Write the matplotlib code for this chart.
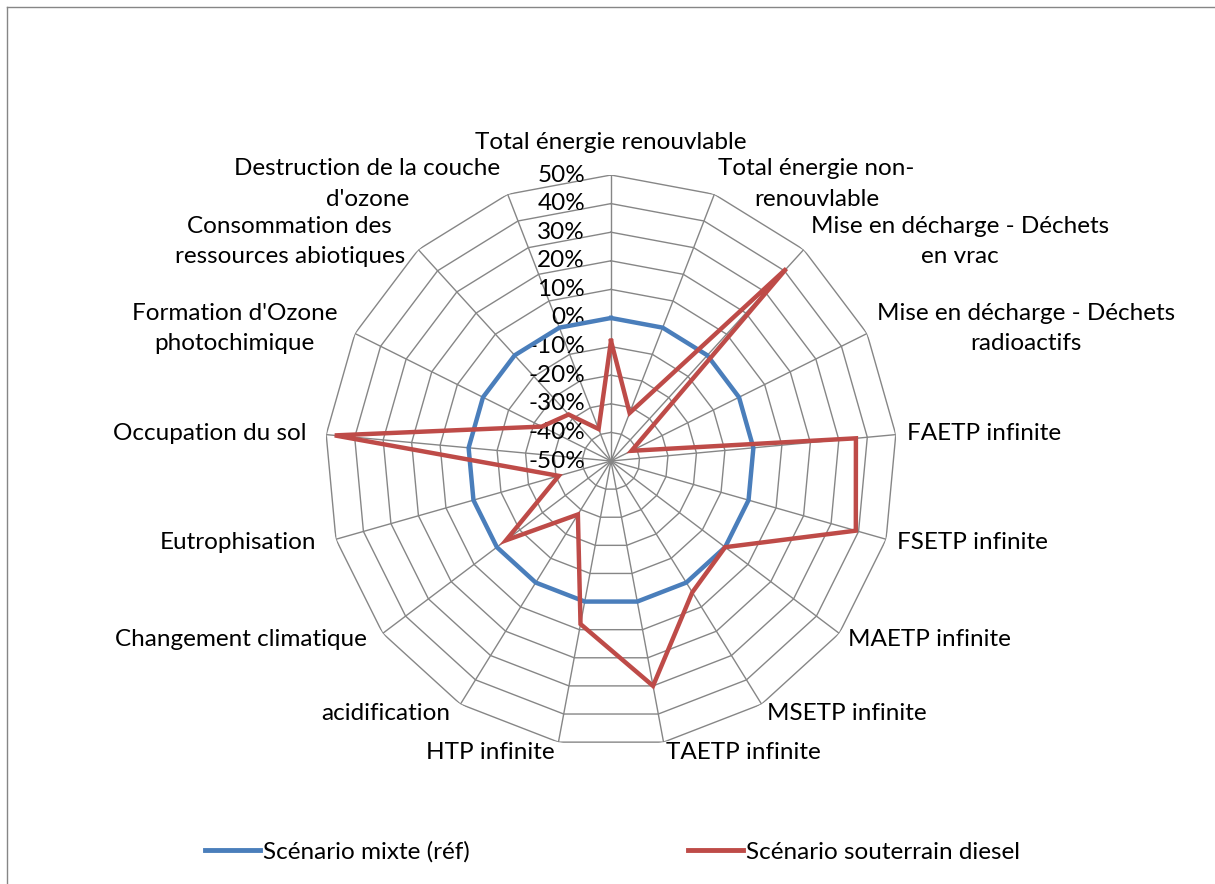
import numpy as np
import matplotlib
matplotlib.use("Agg")
import matplotlib.pyplot as plt
from matplotlib.lines import Line2D

plt.rcParams['font.family'] = ['Lato', 'DejaVu Sans']

categories = [
    "Total énergie renouvlable",
    "Total énergie non-\nrenouvlable",
    "Mise en décharge - Déchets\nen vrac",
    "Mise en décharge - Déchets\nradioactifs",
    "FAETP infinite",
    "FSETP infinite",
    "MAETP infinite",
    "MSETP infinite",
    "TAETP infinite",
    "HTP infinite",
    "acidification",
    "Changement climatique",
    "Eutrophisation",
    "Occupation du sol",
    "Formation d'Ozone\nphotochimique",
    "Consommation des\nressources abiotiques",
    "Destruction de la couche\nd'ozone",
]
mixte_ref = [0.0] * 17
souterrain_diesel = [-0.08, -0.32, 0.41, -0.42, 0.36, 0.39, 0.00, 0.04, 0.30,
                     0.08, -0.28, -0.04, -0.31, 0.47, -0.23, -0.28, -0.38]
rticks = [-0.5, -0.4, -0.3, -0.2, -0.1, 0.0, 0.1, 0.2, 0.3, 0.4, 0.5]
rtick_labels = ["-50%", "-40%", "-30%", "-20%", "-10%", "0%", "10%", "20%", "30%", "40%", "50%"]
series_names = ["Scénario mixte (réf)", "Scénario souterrain diesel"]

W, H = 1215, 884
DPI = 100
FS = 17.5
fig = plt.figure(figsize=(W / DPI, H / DPI), dpi=DPI)
cx, cy, R = 611, 461, 286
ax = fig.add_axes([(cx - R) / W, (H - cy - R) / H, 2 * R / W, 2 * R / H], projection='polar')
ax.set_theta_zero_location('N')
ax.set_theta_direction(-1)
ax.set_ylim(-0.5, 0.5)
ax.grid(False)
ax.set_xticks([])
ax.set_yticks([])
ax.spines['polar'].set_visible(False)
ax.patch.set_visible(False)

n = len(categories)
theta = np.arange(n) * 2 * np.pi / n
theta_c = np.append(theta, theta[0])
gridc = '#868686'
for v in rticks[1:]:
    ax.plot(theta_c, [v] * (n + 1), color=gridc, lw=1.0, zorder=1)
for t in theta:
    ax.plot([t, t], [-0.5, 0.5], color=gridc, lw=1.0, zorder=1)

px = 72 / DPI
for v, lab in zip(rticks, rtick_labels):
    ax.annotate(lab, xy=(0, v), xytext=(-26 * px, 0), textcoords='offset points',
                ha='right', va='center', fontsize=FS, color='black', zorder=3)

def closed(vals):
    return list(vals) + [vals[0]]

ax.plot(theta_c, closed(mixte_ref), color='#4A7EBB', lw=3.2, zorder=4, solid_joinstyle='miter')
ax.plot(theta_c, closed(souterrain_diesel), color='#BE4B48', lw=3.2, zorder=5, solid_joinstyle='miter')

for t, lab in zip(theta, categories):
    s, c = np.sin(t), np.cos(t)
    if abs(s) < 0.1:
        ha = 'center'
        va = 'bottom' if c > 0 else 'top'
        dx, dy = 0, c * 22
    else:
        ha = 'left' if s > 0 else 'right'
        va = 'center'
        dx, dy = s * 11, c * 11
        if s < 0:
            dx -= 9 * abs(s)
    ax.annotate(lab, xy=(t, 0.5), xytext=(dx * px, dy * px), textcoords='offset points',
                ha=ha, va=va, multialignment='center', fontsize=FS, linespacing=1.55)

handles = [Line2D([0], [0], color='#4A7EBB', lw=3.5), Line2D([0], [0], color='#BE4B48', lw=3.5)]
fig.legend(handles, series_names, loc='center', bbox_to_anchor=(0.504, 1 - 852 / H), ncol=2,
           frameon=False, fontsize=FS, handlelength=2.26, handletextpad=0.12, columnspacing=9.0)

fig.add_artist(Line2D([7 / W, 7 / W], [0, 1 - 7 / H], color=gridc, lw=1.0, transform=fig.transFigure))
fig.add_artist(Line2D([7 / W, 1], [1 - 7 / H, 1 - 7 / H], color=gridc, lw=1.0, transform=fig.transFigure))

fig.savefig('out.png', dpi=DPI)
